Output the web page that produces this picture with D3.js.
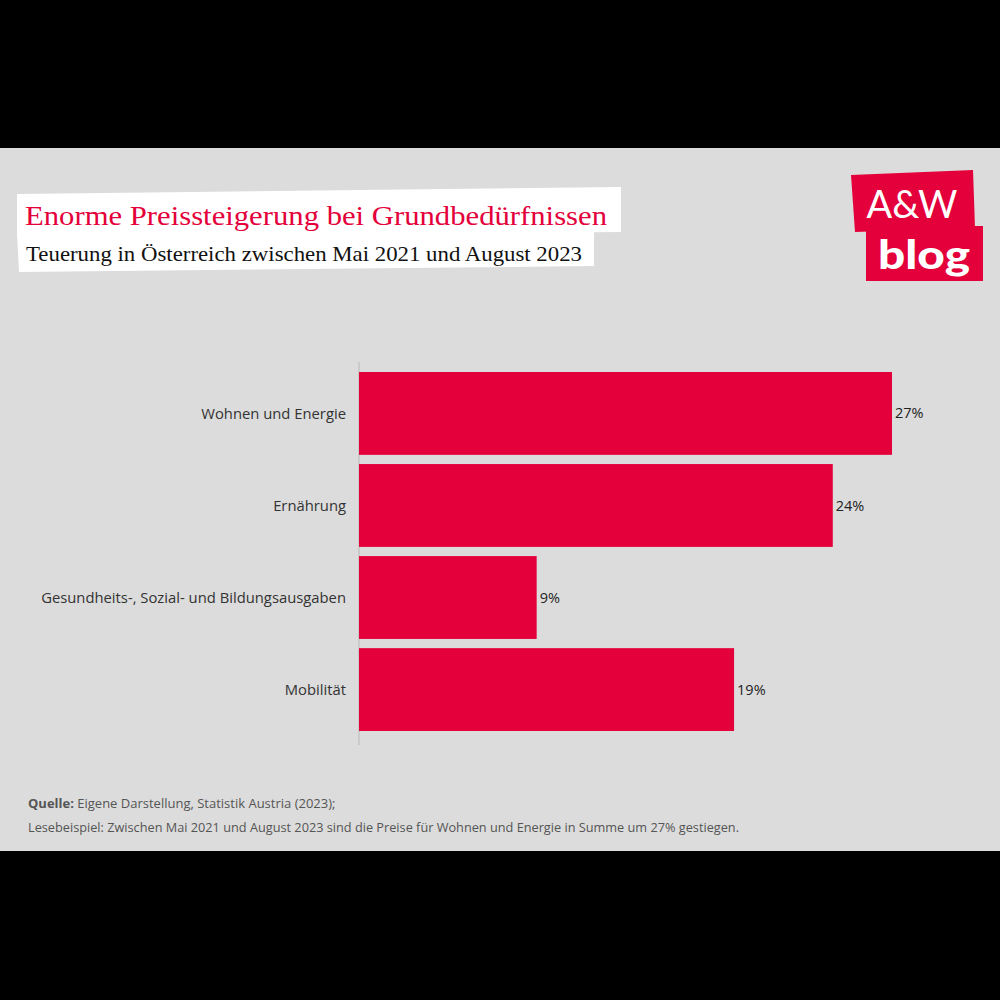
<!DOCTYPE html>
<html><head><meta charset="utf-8">
<script src="https://cdn.jsdelivr.net/npm/d3@7"></script>
<style>html,body{margin:0;padding:0;background:#000;}svg{display:block;}</style>
</head><body>
<script>
const categories = ["Wohnen und Energie", "Ernährung", "Gesundheits-, Sozial- und Bildungsausgaben", "Mobilität"];
const values = [27, 24, 9, 19];
const valueLabels = ["27%", "24%", "9%", "19%"];
const title = "Enorme Preissteigerung bei Grundbedürfnissen";
const subtitle = "Teuerung in Österreich zwischen Mai 2021 und August 2023";
const red = "#e4003a";

const svg = d3.select("body").append("svg").attr("width", 1000).attr("height", 1000);
svg.append("rect").attr("width", 1000).attr("height", 1000).attr("fill", "#000");
svg.append("rect").attr("x", 0).attr("y", 148).attr("width", 1000).attr("height", 703).attr("fill", "#dcdcdc");

// title boxes
svg.append("polygon").attr("points", "17,194 621,187 621,232 17,237").attr("fill", "#fff");
svg.append("polygon").attr("points", "17,233 594,230 594,266 19,272").attr("fill", "#fff");
svg.append("text").attr("x", 25).attr("y", 225).attr("font-family", "Liberation Serif, serif")
  .attr("font-size", 28).attr("fill", red).attr("textLength", 582).attr("lengthAdjust", "spacingAndGlyphs").text(title);
svg.append("text").attr("x", 26).attr("y", 261).attr("font-family", "Liberation Serif, serif")
  .attr("font-size", 21).attr("fill", "#111").attr("textLength", 556).attr("lengthAdjust", "spacingAndGlyphs").text(subtitle);

// logo
const logo = svg.append("g");
logo.append("polygon").attr("points", "851,175 973,170 975,228 855,232").attr("fill", red);
logo.append("text").attr("x", 912).attr("y", 218).attr("text-anchor", "middle").attr("font-family", "Lato, sans-serif")
  .attr("font-size", 38).attr("fill", "#fff").text("A&W");
logo.append("rect").attr("x", 866).attr("y", 226).attr("width", 117).attr("height", 55).attr("fill", red);
logo.append("text").attr("x", 924).attr("y", 269).attr("text-anchor", "middle").attr("font-family", "Lato, sans-serif")
  .attr("font-weight", 900).attr("font-size", 40).attr("fill", "#fff").attr("textLength", 92)
  .attr("lengthAdjust", "spacingAndGlyphs").text("blog");

// chart
const x = d3.scaleLinear().domain([0, 27]).range([359, 892]);
const y = d3.scaleBand().domain(categories).range([372, 731]).paddingInner(0.1).paddingOuter(0);

svg.append("line").attr("x1", 359).attr("x2", 359).attr("y1", 362).attr("y2", 745)
  .attr("stroke", "#b8b8b8").attr("stroke-width", 1);

svg.selectAll("rect.bar").data(values).join("rect").attr("class", "bar")
  .attr("x", x(0)).attr("y", (d, i) => y(categories[i]))
  .attr("width", d => x(d) - x(0)).attr("height", y.bandwidth()).attr("fill", red);

svg.selectAll("text.cat").data(categories).join("text").attr("class", "cat")
  .attr("x", 346).attr("y", d => y(d) + y.bandwidth() / 2).attr("dy", "0.35em")
  .attr("text-anchor", "end").attr("font-family", "Open Sans, sans-serif").attr("font-size", 14.8)
  .attr("fill", "#333").text(d => d);

svg.selectAll("text.val").data(values).join("text").attr("class", "val")
  .attr("x", d => x(d) + 3).attr("y", (d, i) => y(categories[i]) + y.bandwidth() / 2).attr("dy", "0.35em")
  .attr("font-family", "Open Sans, sans-serif").attr("font-size", 14.5).attr("fill", "#222")
  .text((d, i) => valueLabels[i]);

// footer
const f1 = svg.append("text").attr("x", 28).attr("y", 808).attr("font-family", "Open Sans, sans-serif")
  .attr("font-size", 13).attr("fill", "#555");
f1.append("tspan").attr("font-weight", 700).text("Quelle:");
f1.append("tspan").text(" Eigene Darstellung, Statistik Austria (2023);");
svg.append("text").attr("x", 28).attr("y", 832).attr("font-family", "Open Sans, sans-serif")
  .attr("font-size", 13).attr("fill", "#555").attr("textLength", 711).attr("lengthAdjust", "spacingAndGlyphs")
  .text("Lesebeispiel: Zwischen Mai 2021 und August 2023 sind die Preise für Wohnen und Energie in Summe um 27% gestiegen.");
</script>
</body></html>
